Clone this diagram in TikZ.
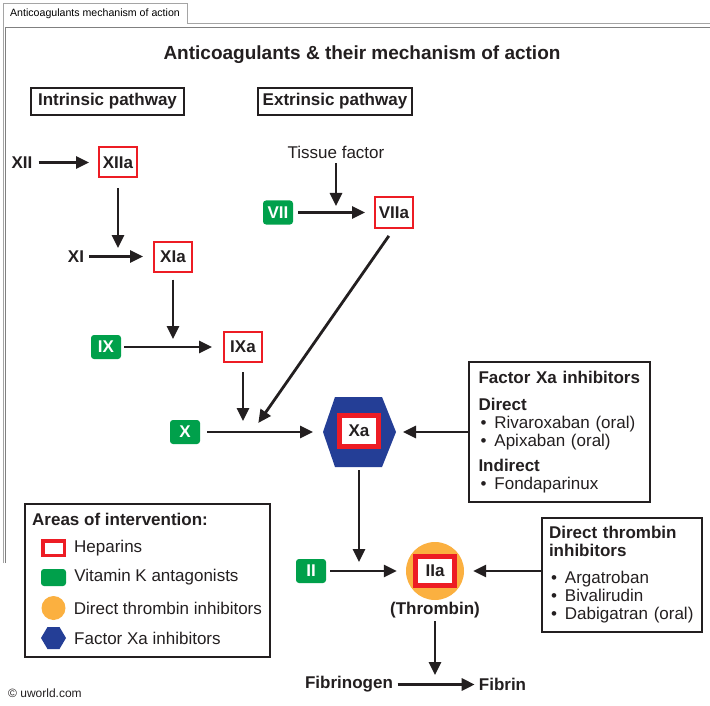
\documentclass[tikz,border=0pt]{standalone}
\usepackage{fontspec}
\setmainfont{Liberation Sans}
\usepackage{tikz}
\usetikzlibrary{arrows.meta,positioning}
\definecolor{hepred}{RGB}{237,28,36}
\definecolor{vkgreen}{RGB}{0,160,75}
\definecolor{dtiorange}{RGB}{251,176,64}
\definecolor{xablue}{RGB}{36,62,150}
\definecolor{inkgray}{RGB}{35,31,32}
\definecolor{framegray}{RGB}{165,165,165}
\definecolor{framedark}{RGB}{128,128,128}
\newcommand{\bul}{\hspace*{2pt}\textbullet\hspace{8pt}}

\begin{document}
\begin{tikzpicture}[x=1pt,y=-1pt,
  every node/.style={font=\fontsize{17}{18}\selectfont,inner sep=0pt,text=inkgray},
  arr/.style={draw=inkgray,line width=2.8pt,-{Triangle[length=13pt,width=12pt]}},
  factor/.style={font=\fontsize{17}{18}\selectfont\bfseries},
  hepbox/.style={draw=hepred,line width=2pt,minimum width=38pt,minimum height=30pt,
    font=\fontsize{17}{18}\selectfont\bfseries},
  hepthick/.style={draw=hepred,fill=white,line width=5pt,minimum width=39pt,minimum height=31pt,
    font=\fontsize{17}{18}\selectfont\bfseries},
  vkbox/.style={fill=vkgreen,rounded corners=3pt,minimum width=30pt,minimum height=24pt,
    text=white,font=\fontsize{17}{18}\selectfont\bfseries},
  headbox/.style={draw=inkgray,line width=2pt,minimum width=153pt,minimum height=27pt,
    font=\fontsize{17}{18}\selectfont\bfseries},
  infobox/.style={draw=inkgray,line width=2pt,align=left}
]
\useasboundingbox[fill=white] (0,0) rectangle (710,706);
\draw[framegray,line width=1pt] (3,563) -- (3,4) -- (187,4) -- (187,24) -- (710,24);
\draw[framedark,line width=1pt] (5,563) -- (5,28) -- (710,28);
\node[font=\fontsize{10.6}{12}\selectfont,text=black] (tab) at (95,14) {Anticoagulants mechanism of action};

\node[font=\fontsize{19}{22}\selectfont\bfseries] (title) at (362,55) {Anticoagulants \& their mechanism of action};
\node[headbox] (intr) at (107.5,101.5) {Intrinsic pathway};
\node[headbox,minimum width=154pt] (extr) at (335,101.5) {Extrinsic pathway};

\node[factor] (xii) at (22,162.5) {XII};
\node[hepbox] (xiia) at (118,162.5) {XIIa};
\node[factor] (xi) at (76,256.5) {XI};
\node[hepbox] (xia) at (173,256.5) {XIa};
\node[vkbox] (ix) at (106,347) {IX};
\node[hepbox] (ixa) at (243,347) {IXa};
\node[vkbox] (x) at (185,432) {X};

\node (tf) at (336,152) {Tissue factor};
\node[vkbox] (vii) at (278,212.5) {VII};
\node[hepbox] (viia) at (394,212.5) {VIIa};

\coordinate (xaw) at (323,432);
\coordinate (xae) at (396,432);
\coordinate (xas) at (359,468);
\fill[xablue] (xaw) -- (335,397) -- (382,397) -- (xae) -- (382,467) -- (335,467) -- cycle;
\node[hepthick] (xa) at (359,431) {Xa};

\node[circle,fill=dtiorange,minimum size=58pt] (iiac) at (435,571) {};
\node[hepthick,minimum height=29pt] (iia) at (435,571) {IIa};
\node[factor] (thr) at (435,610) {(Thrombin)};
\node[vkbox] (ii) at (311,571) {II};
\node[factor] (fbg) at (349,684.5) {Fibrinogen};
\node[factor] (fbn) at (502.5,684.5) {Fibrin};

\node[infobox,minimum height=140pt,text width=162pt,inner xsep=9.5pt] (fxinh) at (559.5,432)
  {\textbf{Factor Xa inhibitors}\\[9pt] \textbf{Direct}\\ \bul Rivaroxaban (oral)\\ \bul Apixaban (oral)\\[7pt]
   \textbf{Indirect}\\ \bul Fondaparinux};
\node[infobox,minimum height=114pt,text width=146pt,inner xsep=7pt] (dti) at (622,575)
  {\textbf{Direct thrombin}\\ \textbf{inhibitors}\\[9pt] \bul Argatroban\\ \bul Bivalirudin\\ \bul Dabigatran (oral)};

\node[draw=inkgray,line width=2pt,minimum width=245pt,minimum height=153pt] (legend) at (147.5,580.5) {};
\node[factor,anchor=west] (lgtitle) at (32,519) {Areas of intervention:};
\node[draw=hepred,line width=3.5pt,minimum width=21.5pt,minimum height=14.5pt] (lghep) at (53.5,548) {};
\node[right=8pt of lghep] (lgheptxt) {Heparins};
\node[vkbox,minimum width=25pt,minimum height=17pt] (lgvk) at (53.5,577.5) {};
\node[right=8pt of lgvk] (lgvktxt) {Vitamin K antagonists};
\node[circle,fill=dtiorange,minimum size=24pt] (lgdti) at (53.5,608) {};
\node[right=8pt of lgdti] (lgdtitxt) {Direct thrombin inhibitors};
\fill[xablue] (41,638) -- (47.5,627) -- (59.5,627) -- (66,638) -- (59.5,649) -- (47.5,649) -- cycle;
\node[anchor=west] (lgxatxt) at (74,638) {Factor Xa inhibitors};

\node[font=\fontsize{12}{14}\selectfont,anchor=west] (copy) at (8,693) {© uworld.com};

\draw[arr,shorten <=6pt,shorten >=9pt] (xii) -- (xiia);
\draw[arr,shorten <=10pt,shorten >=8.5pt] (xiia) -- (xiia |- xi);
\draw[arr,shorten <=5pt,shorten >=10pt] (xi) -- (xia);
\draw[arr,shorten <=7pt,shorten >=8pt] (xia) -- (xia |- ix);
\draw[arr,shorten <=3pt,shorten >=11pt] (ix) -- (ixa);
\draw[arr,shorten <=9pt,shorten >=11pt] (ixa) -- (ixa |- x);
\draw[arr,shorten <=7pt,shorten >=10pt] (x) -- (xaw);
\draw[arr,shorten <=5pt,shorten >=6.5pt] (tf) -- (tf |- vii);
\draw[arr,shorten <=5pt,shorten >=9pt] (vii) -- (viia);
\coordinate (xjoin) at (252,432);
\draw[arr,shorten <=9pt,shorten >=11pt] (viia.south) -- (xjoin);
\draw[arr,shorten <=2pt,shorten >=9pt] (xas) -- (xas |- ii);
\draw[arr,shorten <=4pt,shorten >=9pt] (ii) -- (iiac);
\draw[arr,shorten >=7pt] (fxinh) -- (xae);
\draw[arr,shorten >=9pt] (dti.west |- iiac) -- (iiac);
\draw[arr,shorten <=3pt,shorten >=9.5pt] (thr) -- (thr |- fbg);
\draw[arr,shorten <=4.5pt,shorten >=4pt] (fbg) -- (fbn);
\end{tikzpicture}
\end{document}
